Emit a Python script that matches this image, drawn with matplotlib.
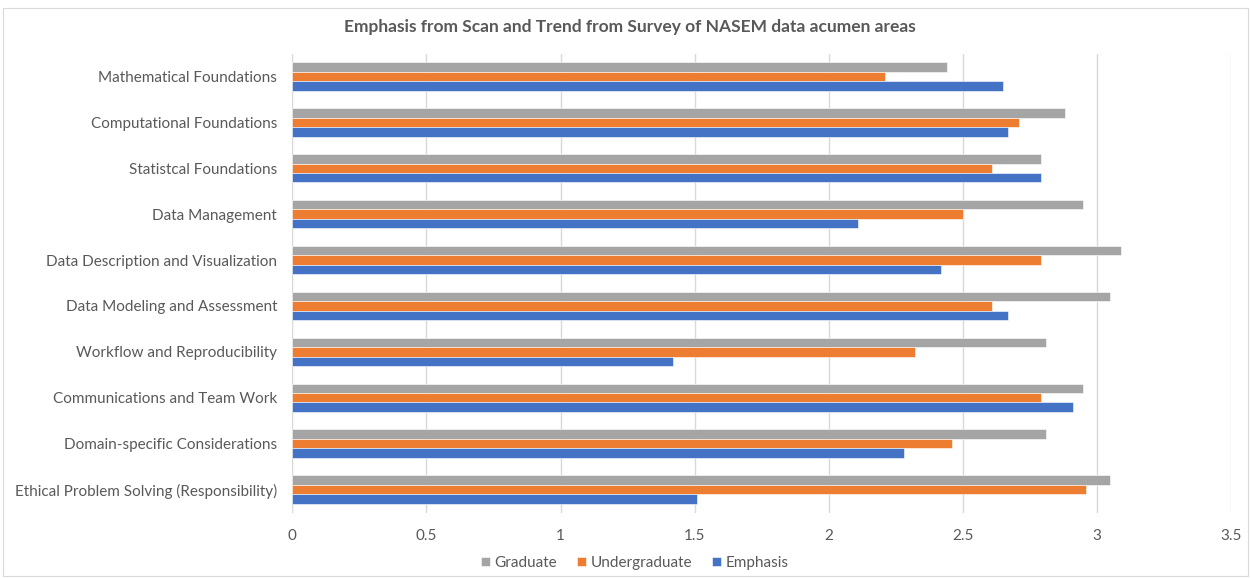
import matplotlib
matplotlib.use("Agg")
import matplotlib.pyplot as plt
from matplotlib.patches import Rectangle
import numpy as np

plt.rcParams['font.family'] = ['Lato', 'DejaVu Sans']

categories = [
    "Mathematical Foundations",
    "Computational Foundations",
    "Statistcal Foundations",
    "Data Management",
    "Data Description and Visualization",
    "Data Modeling and Assessment",
    "Workflow and Reproducibility",
    "Communications and Team Work",
    "Domain-specific Considerations",
    "Ethical Problem Solving (Responsibility)",
]
graduate = [2.44, 2.88, 2.79, 2.95, 3.09, 3.05, 2.81, 2.95, 2.81, 3.05]
undergraduate = [2.21, 2.71, 2.61, 2.50, 2.79, 2.61, 2.32, 2.79, 2.46, 2.96]
emphasis = [2.65, 2.67, 2.79, 2.11, 2.42, 2.67, 1.42, 2.91, 2.28, 1.51]
x_ticks = [0, 0.5, 1, 1.5, 2, 2.5, 3, 3.5]
x_tick_labels = ["0", "0.5", "1", "1.5", "2", "2.5", "3", "3.5"]

series = [
    ("Graduate", graduate, "#A5A5A5"),
    ("Undergraduate", undergraduate, "#ED7D31"),
    ("Emphasis", emphasis, "#4472C4"),
]

text_color = "#595959"
fig = plt.figure(figsize=(12.51, 5.79), dpi=100)
W, H = 1251, 579
ax = fig.add_axes([292.3 / W, 1 - 512.5 / H, (1231 - 292.3) / W, (512.5 - 53.5) / H])

y = np.arange(len(categories))
h = 0.206
offsets = [-h, 0, h]
for (name, vals, color), off in zip(series, offsets):
    ax.barh(y + off, vals, height=h, color=color, label=name,
            edgecolor="white", linewidth=0.4, zorder=3)

ax.set_xlim(0, 3.5)
ax.set_ylim(len(categories) - 0.5, -0.5)
ax.set_xticks(x_ticks)
ax.set_xticklabels(x_tick_labels)
ax.set_yticks(y)
ax.set_yticklabels(categories)
ax.tick_params(axis='both', length=0, colors=text_color, labelsize=11)
ax.tick_params(axis='y', pad=11)
ax.tick_params(axis='x', pad=12)
ax.grid(axis='x', color="#D9D9D9", linewidth=1.0, zorder=0)
for s in ax.spines.values():
    s.set_visible(False)

fig.text(630 / W, 1 - 27 / H, "Emphasis from Scan and Trend from Survey of NASEM data acumen areas",
         ha='center', va='center', fontsize=12.5, fontweight='bold', color=text_color)

leg = fig.legend(loc='center', bbox_to_anchor=(635 / W, 1 - 563 / H), ncol=3, frameon=False,
                 fontsize=11, handlelength=0.6, handleheight=0.6, handletextpad=0.3,
                 columnspacing=1.3, labelcolor=text_color)

fig.patches.append(Rectangle((3 / W, 3 / H), (W - 6) / W, (H - 11) / H, transform=fig.transFigure,
                             fill=False, edgecolor="#D9D9D9", linewidth=0.8))

fig.savefig("out.png", dpi=100, facecolor="white")
